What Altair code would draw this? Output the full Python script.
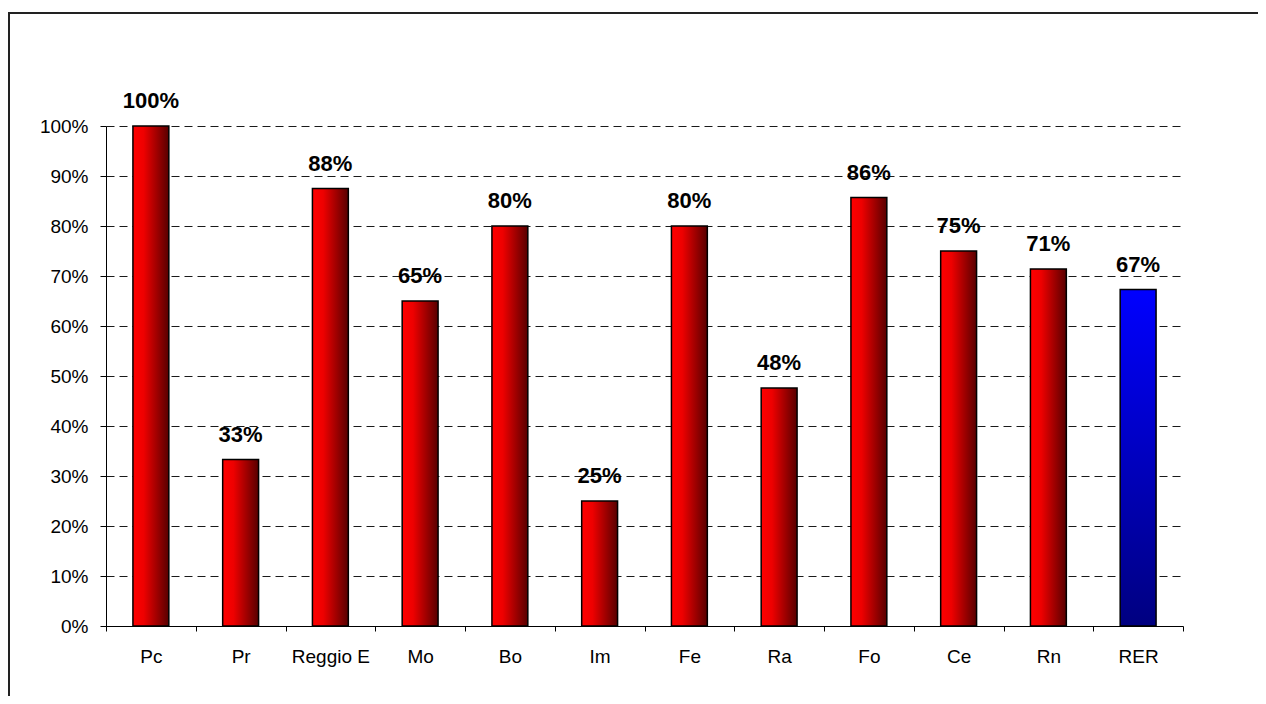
import altair as alt
import pandas as pd

categories = ["Pc", "Pr", "Reggio E", "Mo", "Bo", "Im", "Fe", "Ra", "Fo", "Ce", "Rn", "RER"]
values = [1.0, 0.333, 0.875, 0.65, 0.80, 0.25, 0.80, 0.476, 0.857, 0.75, 0.714, 0.673]
groups = ["prov"] * 11 + ["reg"]
y_ticks = [i / 10 for i in range(11)]

df = pd.DataFrame({"cat": categories, "val": values, "grp": groups})

FONT = "Liberation Sans"

x_enc = alt.X(
    "cat:N",
    sort=categories,
    title=None,
    scale=alt.Scale(paddingInner=0, paddingOuter=0),
    axis=alt.Axis(
        labelAngle=0,
        labelFontSize=19,
        labelFont=FONT,
        labelColor="#000000",
        labelBaseline="alphabetic",
        labelPadding=31,
        tickBand="extent",
        tickSize=5,
        tickColor="#000000",
        domainColor="#000000",
        grid=False,
    ),
)
y_enc = alt.Y(
    "val:Q",
    title=None,
    scale=alt.Scale(domain=[0, 1], nice=False),
    axis=alt.Axis(
        values=y_ticks,
        format=".0%",
        labelFontSize=19,
        labelFont=FONT,
        labelColor="#000000",
        labelPadding=12,
        tickSize=6,
        tickColor="#000000",
        domainColor="#000000",
        grid=True,
        gridColor="#1a1a1a",
        gridDash=[8, 5],
        gridWidth=1,
    ),
)

red_grad = alt.Gradient(
    gradient="linear",
    stops=[
        alt.GradientStop(color="#ff0000", offset=0),
        alt.GradientStop(color="#ee0000", offset=0.3),
        alt.GradientStop(color="#580000", offset=1),
    ],
    x1=0, x2=1, y1=0, y2=0,
)
blue_grad = alt.Gradient(
    gradient="linear",
    stops=[
        alt.GradientStop(color="#0000ff", offset=0),
        alt.GradientStop(color="#000080", offset=1),
    ],
    x1=0, x2=0, y1=0, y2=1,
)

base = alt.Chart(df)
bar_w = alt.RelativeBandSize(0.4)

bars_red = base.transform_filter(alt.datum.grp == "prov").mark_bar(
    color=red_grad, stroke="#000000", strokeWidth=1.5, width=bar_w
).encode(x=x_enc, y=y_enc)

bars_blue = base.transform_filter(alt.datum.grp == "reg").mark_bar(
    color=blue_grad, stroke="#000000", strokeWidth=1.5, width=bar_w
).encode(x=x_enc, y=y_enc)

labels = base.mark_text(
    font=FONT, fontSize=22, fontWeight="bold", color="#000000",
    baseline="alphabetic", dy=-18,
).encode(x=x_enc, y=y_enc, text=alt.Text("val:Q", format=".0%"))

frame_df = pd.DataFrame({"a": [0]})
frame_top = alt.Chart(frame_df).mark_rule(color="#222222", strokeWidth=2).encode(
    x=alt.value(-98), x2=alt.value(1152), y=alt.value(-113)
)
frame_left = alt.Chart(frame_df).mark_rule(color="#222222", strokeWidth=2).encode(
    x=alt.value(-97), y=alt.value(-113), y2=alt.value(570)
)

chart = alt.layer(bars_red, bars_blue, labels, frame_top, frame_left).properties(
    width=1077,
    height=500,
    autosize=alt.AutoSizeParams(type="none"),
    padding={"left": 98, "top": 118, "right": 75, "bottom": 70},
).configure(font=FONT, view=alt.ViewConfig(stroke=None))

chart.save("out.html", embed_options={"renderer": "svg", "actions": False})
